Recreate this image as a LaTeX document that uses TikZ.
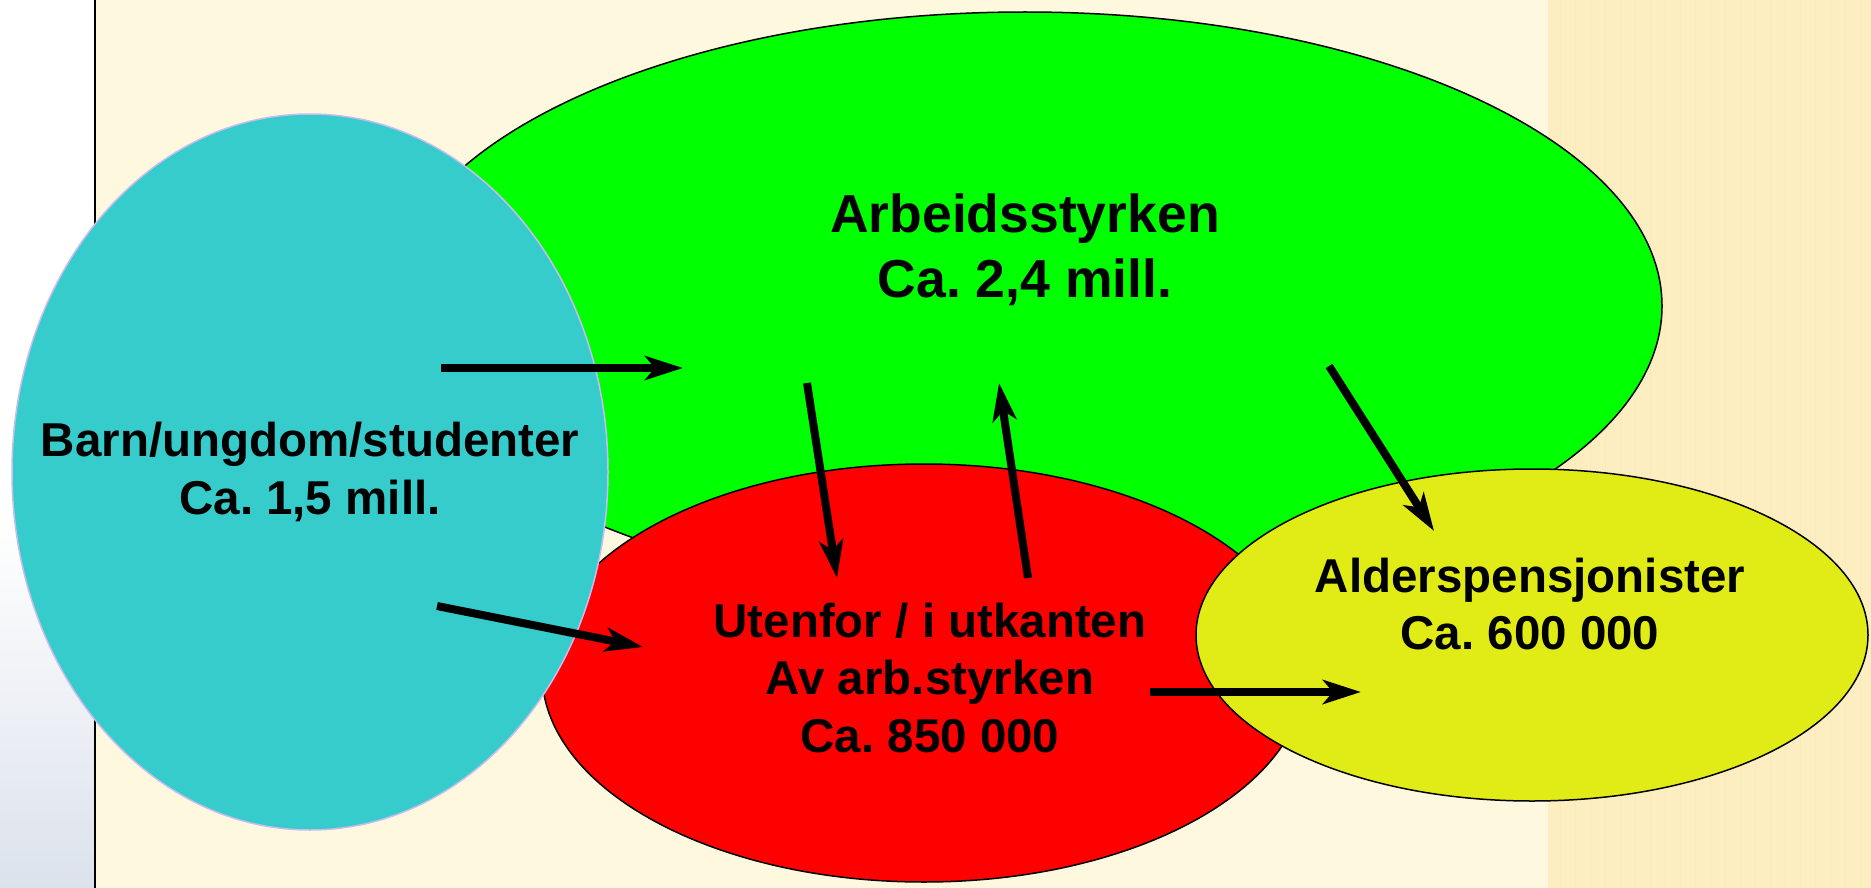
\documentclass[tikz,border=0pt]{standalone}
\usepackage{fontspec}
\setmainfont{Liberation Sans}
\frenchspacing
\usetikzlibrary{shapes.geometric,arrows.meta}
\definecolor{cream}{HTML}{FEF9DE}
\definecolor{band}{HTML}{FDEEC2}
\definecolor{bandgrid}{HTML}{FCE9BA}
\definecolor{arbgreen}{HTML}{00FF00}
\definecolor{utred}{HTML}{FF0000}
\definecolor{barncyan}{HTML}{36CCCC}
\definecolor{aldyellow}{HTML}{E1EC16}
\definecolor{lilac}{HTML}{C8BCF0}
\definecolor{fog}{HTML}{DCE2EC}
\begin{document}
\begin{tikzpicture}[x=1pt,y=-1pt,
  blob/.style={ellipse,draw=black,line width=1.5pt,inner sep=0},
  lbl/.style={align=center,font=\bfseries\fontsize{47.5}{57.5}\selectfont},
  flow/.style={line width=8pt,-{Stealth[length=38pt,width=24pt,inset=10pt]}}]
  \useasboundingbox (0,0) rectangle (1871,888);
  % background
  \fill[white] (0,0) rectangle (95,888);
  \shade[top color=white,bottom color=fog] (0,520) rectangle (95,888);
  \fill[cream] (95,0) rectangle (1548,888);
  \fill[band] (1548,0) rectangle (1871,888);
  \draw[bandgrid,line width=0.4pt,step=15] (1548,0) grid (1871,888);
  \draw[line width=2pt] (95,0) -- (95,888);
  % groups
  \node[blob,fill=arbgreen,minimum width=1274,minimum height=588] (arb) at (1025,306) {};
  \node[blob,fill=utred,minimum width=764,minimum height=418] (ut) at (924,673) {};
  \node[blob,draw=lilac,fill=barncyan,minimum width=596,minimum height=716] (barn) at (310,472) {};
  \node[blob,fill=aldyellow,minimum width=672,minimum height=332] (ald) at (1532,635) {};
  \node[lbl,font=\bfseries\fontsize{53.5}{65}\selectfont] (arbTxt) at (1025,250) {Arbeidsstyrken\\Ca. 2,4 mill.};
  \node[lbl] (barnTxt) at (310,472) {Barn/ungdom/studenter\\Ca. 1,5 mill.};
  \node[lbl] (utTxt) at (930,678) {Utenfor / i utkanten\\Av arb.styrken\\Ca. 850 000};
  \node[lbl] (aldTxt) at (1530,604) {Alderspensjonister\\Ca. 600 000};
  % flows
  \coordinate (barnA) at (441,368);  \coordinate (arbB) at (683,368);
  \coordinate (barnU) at (437,606);  \coordinate (utB) at (643,647);
  \coordinate (arbU) at (807,383);   \coordinate (utA) at (837,578);
  \coordinate (utR) at (1028,578);   \coordinate (arbR) at (999,383);
  \coordinate (arbD) at (1329,366);  \coordinate (aldA) at (1434,531);
  \coordinate (utD) at (1150,692);   \coordinate (aldU) at (1361,692);
  \draw[flow] (barnA) -- (arbB);
  \draw[flow] (barnU) -- (utB);
  \draw[flow] (arbU) -- (utA);
  \draw[flow] (utR) -- (arbR);
  \draw[flow] (arbD) -- (aldA);
  \draw[flow] (utD) -- (aldU);
\end{tikzpicture}
\end{document}
